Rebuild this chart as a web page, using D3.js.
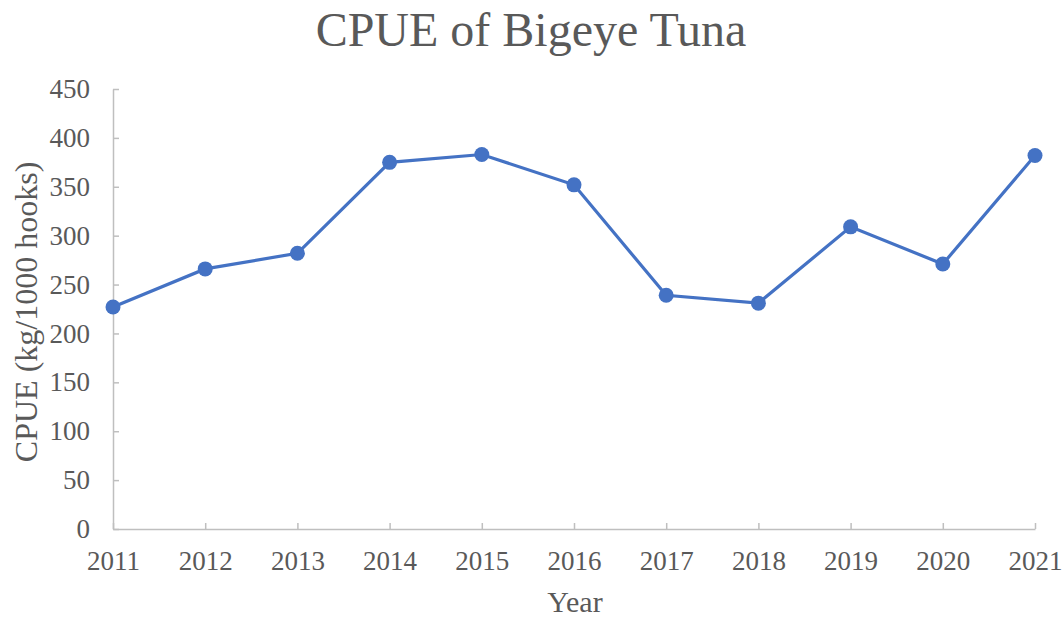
<!DOCTYPE html>
<html>
<head>
<meta charset="utf-8">
<script src="https://cdn.jsdelivr.net/npm/d3@7"></script>
<style>
  body { margin: 0; background: #fff; }
  text { font-family: "Liberation Serif", "Times New Roman", serif; fill: #595959; }
</style>
</head>
<body>
<div id="viz-container"></div>
<script>
// data
let years = [2011, 2012, 2013, 2014, 2015, 2016, 2017, 2018, 2019, 2020, 2021];
let cpue = [227, 266, 282, 375, 383, 352, 239, 231, 309, 271, 382];
let yTicks = [0, 50, 100, 150, 200, 250, 300, 350, 400, 450];

let W = 1063, H = 617;
let margin = {left: 113, right: 28, top: 89, bottom: 88};

let svg = d3.select('#viz-container')
  .append('svg')
    .attr('width', W)
    .attr('height', H);

let x = d3.scalePoint()
  .domain(years)
  .range([margin.left, W - margin.right]);

let y = d3.scaleLinear()
  .domain([0, 450])
  .range([H - margin.bottom, margin.top]);

// axes, ticks point inward like the excel chart
let xAxis = svg.append('g')
  .attr('transform', 'translate(0,' + (H - margin.bottom) + ')')
  .call(d3.axisBottom(x).tickSizeInner(-6).tickSizeOuter(0));

let yAxis = svg.append('g')
  .attr('transform', 'translate(' + margin.left + ',0)')
  .call(d3.axisLeft(y).tickValues(yTicks).tickSizeInner(-6).tickSizeOuter(0).tickPadding(23));

[xAxis, yAxis].forEach(function(a){
  a.selectAll('path, line').attr('stroke', '#bfbfbf').attr('stroke-width', 1.5);
  a.selectAll('text').attr('font-size', 27).attr('fill', '#595959')
    .style('font-family', '"Liberation Serif", serif');
});
xAxis.selectAll('text').attr('y', 41).attr('dy', 0);

// line
let line = d3.line()
  .x(function(d, i){ return x(years[i]); })
  .y(function(d){ return y(d); });

svg.append('path')
  .datum(cpue)
  .attr('d', line)
  .attr('fill', 'none')
  .attr('stroke', '#4472c4')
  .attr('stroke-width', 3.2);

svg.selectAll('.dot')
  .data(cpue)
  .enter()
  .append('circle')
    .attr('class', 'dot')
    .attr('cx', function(d, i){ return x(years[i]); })
    .attr('cy', function(d){ return y(d); })
    .attr('r', 7.5)
    .attr('fill', '#4472c4');

// titles
svg.append('text')
  .attr('x', 531)
  .attr('y', 46)
  .attr('text-anchor', 'middle')
  .attr('font-size', 48)
  .text('CPUE of Bigeye Tuna');

svg.append('text')
  .attr('x', 575)
  .attr('y', 612)
  .attr('text-anchor', 'middle')
  .attr('font-size', 30)
  .text('Year');

svg.append('text')
  .attr('transform', 'translate(37,' + y(222) + ') rotate(-90)')
  .attr('text-anchor', 'middle')
  .attr('font-size', 32)
  .text('CPUE (kg/1000 hooks)');
</script>
</body>
</html>
